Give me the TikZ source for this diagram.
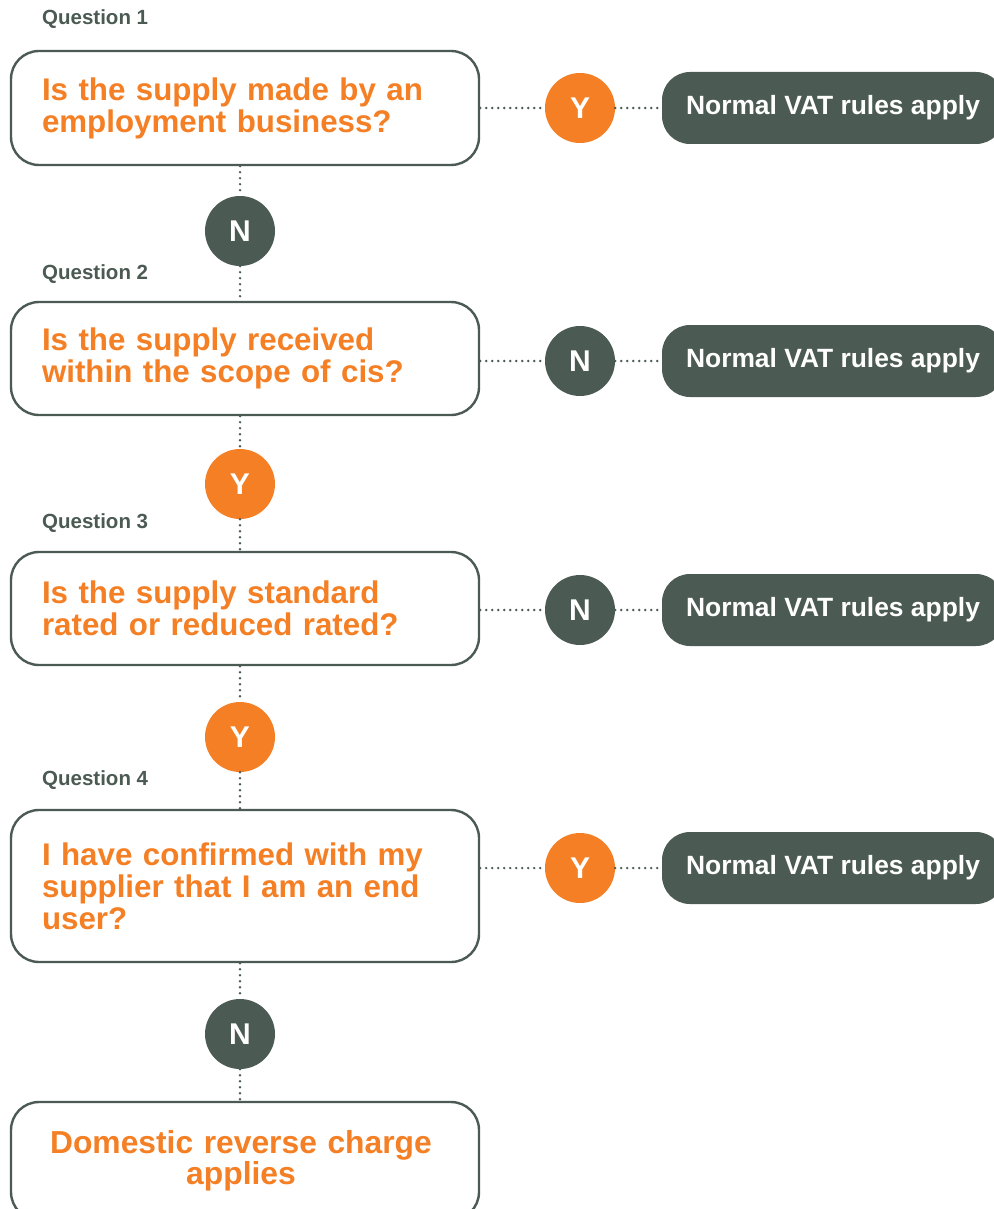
\documentclass[tikz,border=0pt]{standalone}
\usepackage{fontspec}
\setmainfont{Liberation Sans}
\definecolor{dk}{HTML}{4B5A53}
\definecolor{og}{HTML}{F47F24}
\tikzset{
  qbox/.style={draw=dk, line width=2.4pt, rounded corners=28pt, fill=white,
    minimum width=468pt, text width=406pt, inner xsep=31pt, inner ysep=0pt,
    align=left, text=og, font=\bfseries\fontsize{31.3}{32}\selectfont},
  qlabel/.style={anchor=west, inner sep=0pt, text=dk, font=\bfseries\fontsize{20.5}{22}\selectfont},
  ycirc/.style={circle, fill=og, minimum size=70pt, inner sep=0pt, text=white, font=\bfseries\fontsize{30}{32}\selectfont},
  ncirc/.style={circle, fill=dk, minimum size=70pt, inner sep=0pt, text=white, font=\bfseries\fontsize{30}{32}\selectfont},
  rbox/.style={fill=dk, rounded corners=28pt, minimum width=342pt, minimum height=72pt, inner sep=0pt,
    text=white, font=\bfseries\fontsize{26.4}{28}\selectfont},
  dotline/.style={draw=dk, line width=2.6pt, line cap=round, dash pattern=on 0pt off 6pt}
}
\begin{document}
\begin{tikzpicture}[x=1pt, y=-1pt]
\useasboundingbox (0,0) rectangle (993,1209);
% question boxes
\node[qbox, minimum height=114pt] (q1) at (245,108) {Is the supply made by an\\employment business?};
\node[qbox, minimum height=113pt] (q2) at (245,358.5) {Is the supply received\\within the scope of cis?};
\node[qbox, minimum height=113pt] (q3) at (245,608.5) {Is the supply standard\\rated or reduced rated?};
\node[qbox, minimum height=152pt] (q4) at (245,886) {I have confirmed with my\\supplier that I am an end\\user?};
\node[qbox, align=center, minimum height=118pt, font=\bfseries\fontsize{31.8}{31}\selectfont] (q5) at (245,1161) {\hspace*{-8pt}Domestic reverse charge\\\hspace*{-8pt}applies};
% labels
\node[qlabel] (l1) at (42,19) {Question 1};
\node[qlabel] (l2) at (42,274) {Question 2};
\node[qlabel] (l3) at (42,523) {Question 3};
\node[qlabel] (l4) at (42,780) {Question 4};
% vertical circles
\node[ncirc] (v1) at (240,231) {N};
\node[ycirc] (v2) at (240,484) {Y};
\node[ycirc] (v3) at (240,737) {Y};
\node[ncirc] (v4) at (240,1034) {N};
% right circles
\node[ycirc] (h1) at (580,108) {Y};
\node[ncirc] (h2) at (580,361) {N};
\node[ncirc] (h3) at (580,610) {N};
\node[ycirc] (h4) at (580,868) {Y};
% result boxes
\node[rbox] (r1) at (833,108) {Normal VAT rules apply};
\node[rbox] (r2) at (833,361) {Normal VAT rules apply};
\node[rbox] (r3) at (833,610) {Normal VAT rules apply};
\node[rbox] (r4) at (833,868) {Normal VAT rules apply};
% vertical dotted connectors
\draw[dotline] (q1.south -| v1) -- (v1.north);
\draw[dotline] (v1.south) -- (q2.north -| v1);
\draw[dotline] (q2.south -| v2) -- (v2.north);
\draw[dotline] (v2.south) -- (q3.north -| v2);
\draw[dotline] (q3.south -| v3) -- (v3.north);
\draw[dotline] (v3.south) -- (q4.north -| v3);
\draw[dotline] (q4.south -| v4) -- (v4.north);
\draw[dotline] (v4.south) -- (q5.north -| v4);
% horizontal dotted connectors
\draw[dotline] (q1.east |- h1) -- (h1.west);
\draw[dotline] (h1.east) -- (r1.west);
\draw[dotline] (q2.east |- h2) -- (h2.west);
\draw[dotline] (h2.east) -- (r2.west);
\draw[dotline] (q3.east |- h3) -- (h3.west);
\draw[dotline] (h3.east) -- (r3.west);
\draw[dotline] (q4.east |- h4) -- (h4.west);
\draw[dotline] (h4.east) -- (r4.west);
\end{tikzpicture}
\end{document}
